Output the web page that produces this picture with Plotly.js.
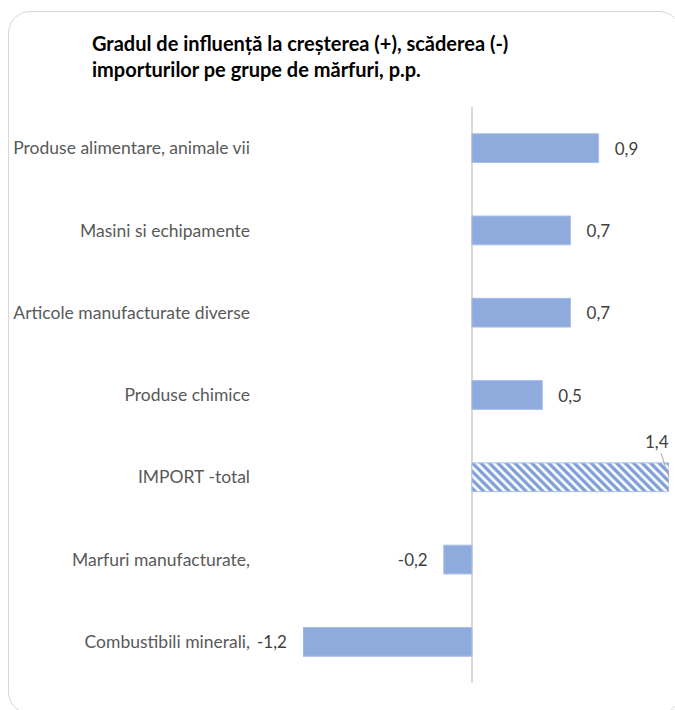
<!DOCTYPE html>
<html>
<head>
<meta charset="utf-8">
<script src="https://cdn.plot.ly/plotly-3.0.1.min.js"></script>
<style>
  html, body { margin: 0; padding: 0; background: #ffffff; overflow: hidden; }
  #frame { position: absolute; left: 8px; top: 11px; width: 673px; height: 703px;
           border: 1.5px solid #d9d9d9; border-radius: 22px; box-sizing: border-box; }
  #chart { position: absolute; left: 0; top: 0; width: 675px; height: 710px; }
</style>
</head>
<body>
<div id="frame"></div>
<div id="chart"></div>
<script>
const categories = [
  "Produse alimentare, animale vii",
  "Masini si echipamente",
  "Articole manufacturate diverse",
  "Produse chimice",
  "IMPORT -total",
  "Marfuri manufacturate,",
  "Combustibili minerali,"
];
const values = [0.9, 0.7, 0.7, 0.5, 1.4, -0.2, -1.2];
const totalLabel = "IMPORT -total";
const titleText = "Gradul de influență la creșterea (+), scăderea (-)<br>importurilor pe grupe de mărfuri, p.p.";

const blue = "#8faadc";
const pad = "\u00a0\u00a0\u00a0";
const isTotal = categories.map(c => c === totalLabel);
const labels = values.map((v, i) => {
  if (isTotal[i]) return "";
  const s = v.toFixed(1).replace(".", ",");
  return v >= 0 ? pad + s : s + pad;
});
const totalValue = values[categories.indexOf(totalLabel)];

const trace = {
  type: "bar",
  orientation: "h",
  y: categories,
  x: values,
  width: 0.35,
  text: labels,
  textposition: "outside",
  cliponaxis: false,
  textfont: { family: "Lato, sans-serif", size: 17, color: "#404040" },
  marker: {
    color: blue,
    line: { color: "#a9bfe6", width: 1 },
    pattern: {
      shape: isTotal.map(t => t ? "\\" : ""),
      fillmode: "replace",
      fgcolor: "#7f9fd8",
      bgcolor: "#ffffff",
      size: 6,
      solidity: 0.55
    }
  },
  hoverinfo: "x+y"
};

const layout = {
  width: 675,
  height: 710,
  paper_bgcolor: "rgba(0,0,0,0)",
  plot_bgcolor: "rgba(0,0,0,0)",
  margin: { l: 303, r: 6, t: 107, b: 27 },
  separators: ",.",
  showlegend: false,
  title: {
    text: titleText,
    font: { family: "Lato, sans-serif", size: 20, color: "#000000", weight: "bold" },
    x: 92 / 675,
    xanchor: "left",
    y: 1 - 51 / 710,
    yanchor: "top",
    xref: "container",
    yref: "container"
  },
  xaxis: {
    range: [-1.2, 1.4],
    showgrid: false,
    showticklabels: false,
    ticks: "",
    zeroline: true,
    zerolinecolor: "#d9d9d9",
    zerolinewidth: 1.5,
    showline: false,
    fixedrange: true
  },
  yaxis: {
    type: "category",
    autorange: "reversed",
    showgrid: false,
    ticks: "",
    showline: false,
    zeroline: false,
    ticklabelstandoff: 52,
    tickfont: { family: "Lato, sans-serif", size: 17.5, color: "#595959" },
    fixedrange: true
  },
  annotations: [{
    x: totalValue,
    y: totalLabel,
    xref: "x",
    yref: "y",
    text: totalValue.toFixed(1).replace(".", ","),
    showarrow: true,
    arrowhead: 0,
    arrowwidth: 1,
    arrowcolor: "#a6a6a6",
    ax: -12,
    ay: -36,
    standoff: 0,
    font: { family: "Lato, sans-serif", size: 17, color: "#404040" }
  }]
};

Plotly.newPlot("chart", [trace], layout, { displayModeBar: false, staticPlot: true });
</script>
</body>
</html>
